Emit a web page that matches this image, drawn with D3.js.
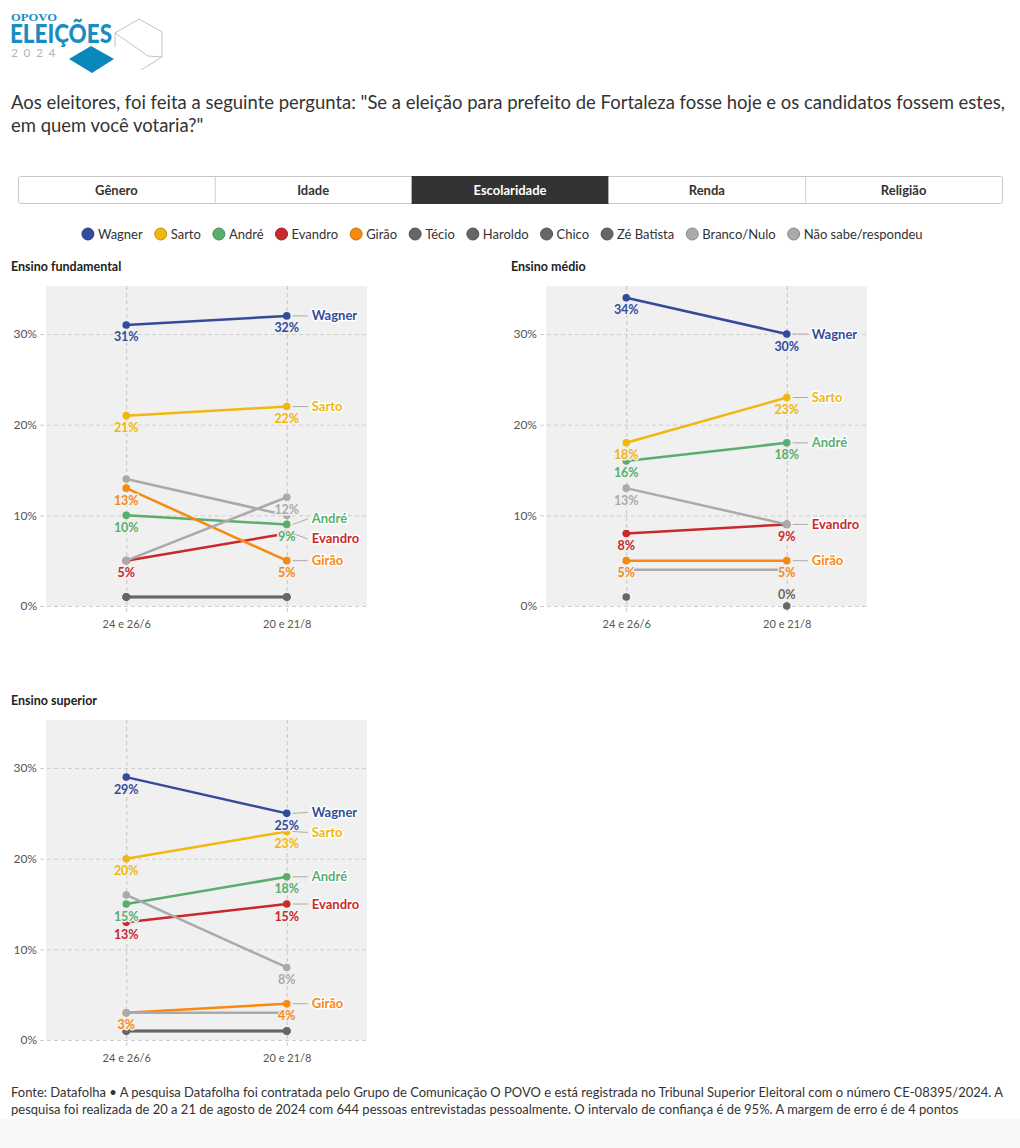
<!DOCTYPE html>
<html><head><meta charset="utf-8">
<script src="https://cdn.jsdelivr.net/npm/d3@7"></script>
<style>
body{margin:0;background:#fff;}
svg{display:block;}
text{font-family:Lato,'Noto Sans',sans-serif;}
</style>
</head><body><svg id="c" width="1020" height="1148"></svg>
<script>
// ---------- DATA ----------
const dates = ["24 e 26/6", "20 e 21/8"];
const seriesNames = ["Wagner","Sarto","André","Evandro","Girão","Técio","Haroldo","Chico","Zé Batista","Branco/Nulo","Não sabe/respondeu"];
const seriesColors = ["#344b9b","#f1b70d","#5aae6b","#c9282d","#f8890f","#666666","#666666","#666666","#666666","#aaaaaa","#aaaaaa"];
const namedSeries = ["Wagner","Sarto","André","Evandro","Girão"];
const unlabelledSeries = ["Técio","Haroldo","Chico"];
const panelTitles = ["Ensino fundamental","Ensino médio","Ensino superior"];
const tabs = ["Gênero","Idade","Escolaridade","Renda","Religião"];
const activeTab = "Escolaridade";
const yTicks = [0, 10, 20, 30];
// values per series, in seriesNames order: [24 e 26/6, 20 e 21/8]
const fundamental = [[31,32],[21,22],[10,9],[5,8],[13,5],[1,1],[1,1],[1,1],[null,null],[5,12],[14,10]];
const medio       = [[34,30],[18,23],[16,18],[8,9],[5,5],[1,null],[null,null],[null,null],[null,0],[4,4],[13,9]];
const superior    = [[29,25],[20,23],[15,18],[13,15],[3,4],[1,1],[1,1],[1,1],[null,null],[3,3],[16,8]];
const panelValues = [fundamental, medio, superior];
const titleLines = ['Aos eleitores, foi feita a seguinte pergunta: "Se a eleição para prefeito de Fortaleza fosse hoje e os candidatos fossem estes,',
                    'em quem você votaria?"'];
const footerLines = ['Fonte: Datafolha • A pesquisa Datafolha foi contratada pelo Grupo de Comunicação O POVO e está registrada no Tribunal Superior Eleitoral com o número CE-08395/2024. A',
                     'pesquisa foi realizada de 20 a 21 de agosto de 2024 com 644 pessoas entrevistadas pessoalmente. O intervalo de confiança é de 95%. A margem de erro é de 4 pontos'];

// ---------- DRAW ----------
const svg = d3.select("#c");
const colorOf = d3.scaleOrdinal(seriesNames, seriesColors);

function fitWidth(sel, target) {
  const w = sel.node().getComputedTextLength();
  const fs = parseFloat(sel.attr("font-size"));
  return fs * target / w;
}

// Logo
const logo = svg.append("g");
logo.append("text").attr("x", 11).attr("y", 21).attr("font-size", 11).attr("font-weight", 700)
  .style("font-family", "'Liberation Serif',serif").attr("fill", "#1a8cc0")
  .attr("textLength", 46).attr("lengthAdjust", "spacingAndGlyphs").text("OPOVO");
logo.append("text").attr("x", 10).attr("y", 43).attr("font-size", 26).attr("font-weight", 900)
  .attr("fill", "#1a8cc0").attr("textLength", 102).attr("lengthAdjust", "spacingAndGlyphs").text("ELEIÇÕES");
logo.append("text").attr("x", 11).attr("y", 57).attr("font-size", 12).attr("fill", "#b5b5b5")
  .attr("letter-spacing", 5.5).text("2024");
logo.append("path").attr("d", "M115,33 L139,19 L162,32 L162,57 L141,70 M115,33 L148,56 L162,57 M115,33 L115,47")
  .attr("fill", "none").attr("stroke", "#c2c2c2").attr("stroke-width", 1);
logo.append("polygon").attr("points", "69,59 91,46 114,59 92,73").attr("fill", "#0a87bb");

// Title
const title = svg.append("g");
const t1 = title.append("text").attr("x", 11).attr("y", 109).attr("font-size", 18).attr("fill", "#333").text(titleLines[0]);
const tfs = fitWidth(t1, 995);
t1.attr("font-size", tfs);
title.append("text").attr("x", 11).attr("y", 132).attr("font-size", tfs).attr("fill", "#333").text(titleLines[1]);

// Tabs
const tabX = d3.scaleBand(tabs, [18, 1002]);
const tg = svg.append("g");
tg.append("rect").attr("x", 18.5).attr("y", 176.5).attr("width", 984).attr("height", 27).attr("rx", 2)
  .attr("fill", "#fff").attr("stroke", "#c8c8c8");
tabs.forEach((t, i) => {
  const x = tabX(t);
  if (t === activeTab) tg.append("rect").attr("x", x).attr("y", 176).attr("width", tabX.bandwidth()).attr("height", 28).attr("fill", "#333");
  else if (i > 0 && tabs[i-1] !== activeTab) tg.append("line").attr("x1", x + 0.5).attr("x2", x + 0.5).attr("y1", 177).attr("y2", 203).attr("stroke", "#d0d0d0");
  tg.append("text").attr("x", x + tabX.bandwidth() / 2).attr("y", 194.5).attr("text-anchor", "middle")
    .attr("font-size", 13).attr("font-weight", 700).attr("fill", t === activeTab ? "#fff" : "#333").text(t);
});

// Legend
const lg = svg.append("g");
const items = seriesNames.map(n => {
  const tx = lg.append("text").attr("font-size", 13).attr("fill", "#333").attr("y", 238.5).text(n);
  return {n, tx, w: tx.node().getComputedTextLength()};
});
const gap = 11.5, sym = 13, sgap = 3.5;
const totalW = d3.sum(items, d => sym + sgap + d.w) + gap * (items.length - 1);
let lx = 502 - totalW / 2;
items.forEach(d => {
  lg.append("circle").attr("cx", lx + sym / 2).attr("cy", 234).attr("r", 6)
    .attr("fill", colorOf(d.n)).attr("stroke", d3.color(colorOf(d.n)).darker(0.6)).attr("stroke-width", 1);
  d.tx.attr("x", lx + sym + sgap);
  lx += sym + sgap + d.w + gap;
});

// Panels
const panelPos = [{x: 46, y: 286, tx: 11, ty: 271}, {x: 546, y: 286, tx: 511, ty: 271}, {x: 46, y: 720, tx: 11, ty: 705}];
const PW = 321, PH = 320;

panelTitles.forEach((pt, pi) => {
  const pos = panelPos[pi];
  const vals = panelValues[pi];
  const g = svg.append("g");
  g.append("text").attr("x", pos.tx).attr("y", pos.ty).attr("font-size", 12.5).attr("font-weight", 700)
    .attr("fill", "#222").text(pt);
  const x = d3.scalePoint(dates, [pos.x, pos.x + PW]).padding(0.5);
  const y = d3.scaleLinear([0, 35.3], [pos.y + PH, pos.y]);

  g.append("rect").attr("x", pos.x).attr("y", pos.y).attr("width", PW).attr("height", PH).attr("fill", "#f0f0f0");

  const ya = g.append("g").attr("transform", `translate(${pos.x - 6},0)`)
    .call(d3.axisLeft(y).tickValues(yTicks).tickSize(-(PW + 6)).tickPadding(3).tickFormat(d => d + "%"));
  ya.select(".domain").remove();
  ya.selectAll("line").attr("stroke", "#cfcfcf").attr("stroke-dasharray", "4,3");
  ya.selectAll("text").attr("font-size", 12).attr("fill", "#555").style("font-family", "Lato,sans-serif");

  const xa = g.append("g").attr("transform", `translate(0,${pos.y + PH + 6})`)
    .call(d3.axisBottom(x).tickSize(-(PH + 6)).tickPadding(8));
  xa.select(".domain").remove();
  xa.selectAll("line").attr("stroke", "#c4c4c4").attr("stroke-dasharray", "4,3");
  xa.selectAll("text").attr("font-size", 11).attr("fill", "#555").style("font-family", "Lato,sans-serif");

  const series = seriesNames.map((n, i) => ({n, c: colorOf(n), v: vals[i]}));
  const line = d3.line().defined(d => d != null).x((d, i) => x(dates[i])).y(d => y(d));
  // lines + dots
  series.forEach(s => {
    g.append("path").attr("d", line(s.v)).attr("fill", "none").attr("stroke", s.c).attr("stroke-width", 2.5);
    s.v.forEach((d, i) => {
      if (d == null) return;
      g.append("circle").attr("cx", x(dates[i])).attr("cy", y(d)).attr("r", 3.8).attr("fill", s.c);
    });
  });

  // value labels with collision avoidance
  const placed = [];
  const lblG = g.append("g");
  series.forEach(s => {
    if (unlabelledSeries.includes(s.n)) return;
    s.v.forEach((d, i) => {
      if (d == null) return;
      const cx = x(dates[i]);
      let cy = y(d) + 12;
      if (cy + 6 > pos.y + PH) cy = y(d) - 12;
      const box = {x0: cx - 13, x1: cx + 13, y0: cy - 6, y1: cy + 6};
      if (placed.some(b => b.x0 < box.x1 && box.x0 < b.x1 && b.y0 < box.y1 && box.y0 < b.y1)) return;
      placed.push(box);
      lblG.append("text").attr("x", cx).attr("y", cy).attr("dy", "0.36em").attr("text-anchor", "middle")
        .attr("font-size", 12.5).attr("font-weight", 700).attr("fill", s.c)
        .attr("stroke", "#f0f0f0").attr("stroke-width", 3).attr("stroke-linejoin", "round")
        .style("paint-order", "stroke").text(d + "%");
    });
  });

  // end name labels with de-overlap
  const last = dates.length - 1;
  const ends = series.filter(s => namedSeries.includes(s.n) && s.v[last] != null)
    .map(s => ({s, y0: y(s.v[last]), ly: y(s.v[last])}))
    .sort((a, b) => a.y0 - b.y0);
  for (let it = 0; it < 100; it++) {
    for (let k = 1; k < ends.length; k++) {
      const diff = ends[k].ly - ends[k-1].ly;
      if (diff < 20) {
        const m = (20 - diff) / 2;
        ends[k].ly += m; ends[k-1].ly -= m;
      }
    }
  }
  const ex = x(dates[last]);
  ends.forEach(e => {
    g.append("line").attr("x1", ex + 6).attr("x2", ex + 21).attr("y1", e.y0).attr("y2", e.ly)
      .attr("stroke", "#aaa").attr("stroke-width", 1);
    g.append("text").attr("x", ex + 25).attr("y", e.ly).attr("dy", "0.35em").attr("font-size", 13)
      .attr("font-weight", 700).attr("fill", e.s.c).attr("stroke", "#fff").attr("stroke-width", 3)
      .attr("stroke-linejoin", "round").style("paint-order", "stroke").text(e.s.n);
  });
});

// Footer
svg.append("rect").attr("x", 0).attr("y", 1119).attr("width", 1020).attr("height", 29).attr("fill", "#f7f7f7");
const f1 = svg.append("text").attr("x", 11).attr("y", 1097).attr("font-size", 13).attr("fill", "#333").text(footerLines[0]);
const ffs = fitWidth(f1, 993);
f1.attr("font-size", ffs);
svg.append("text").attr("x", 11).attr("y", 1114).attr("font-size", ffs).attr("fill", "#333").text(footerLines[1]);
</script>
</body></html>
